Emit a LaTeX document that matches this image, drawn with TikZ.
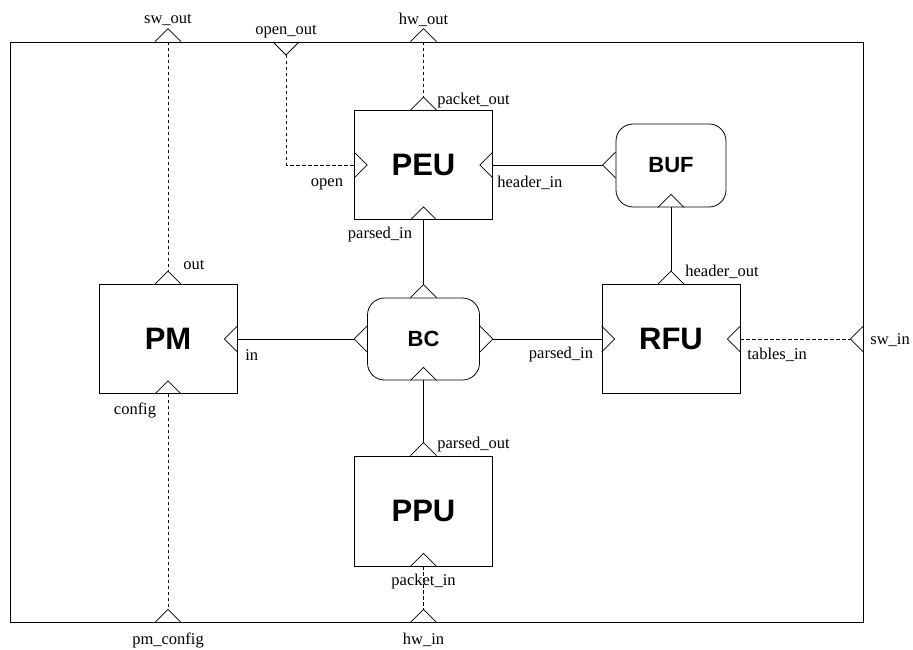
\documentclass[tikz,border=0pt]{standalone}
\usepackage{fontspec}
\setmainfont{Liberation Serif}
\newfontfamily\blocksans{Liberation Sans}
\begin{document}
\begin{tikzpicture}[x=1pt,y=-1pt,line width=0.8pt,
  lbl/.style={font=\fontsize{16.5}{19}\selectfont,inner sep=0pt},
  blk/.style={draw,minimum width=138pt,minimum height=109pt,font=\blocksans\bfseries\fontsize{31}{34}\selectfont},
  rblk/.style={draw,rounded corners=17pt,font=\blocksans\bfseries\fontsize{22}{25}\selectfont},
  dsh/.style={dash pattern=on 3.5pt off 2.5pt},
  pup/.pic={\draw (-13,0) -- (0,-13) -- (13,0);},
  pdown/.pic={\draw (-13,0) -- (0,13) -- (13,0);},
  pleft/.pic={\draw (0,-13) -- (-13,0) -- (0,13);},
  pright/.pic={\draw (0,-13) -- (13,0) -- (0,13);}]
\useasboundingbox (0,0) rectangle (913,650);
\node[draw,minimum width=853pt,minimum height=580pt,inner sep=0pt] (frame) at (436.5,332) {};
% blocks
\node[blk] (PEU) at (423.5,165) {PEU};
\node[blk] (PM) at (168,339) {PM};
\node[blk] (RFU) at (671,339) {RFU};
\node[blk,minimum height=110pt] (PPU) at (423.5,511) {PPU};
\node[rblk,minimum width=110pt,minimum height=83pt] (BUF) at (671,165.5) {BUF};
\node[rblk,minimum width=112pt,minimum height=82pt] (BC) at (423.5,339) {BC};
% frame port coordinates
\coordinate (swout) at (frame.north -| PM.center);
\coordinate (openoutB) at (286,42);
\coordinate (hwout) at (frame.north -| PEU.center);
\coordinate (swin) at (frame.east |- RFU.center);
\coordinate (pmcfg) at (frame.south -| PM.center);
\coordinate (hwin) at (frame.south -| PPU.center);
% apex coordinates
\coordinate (openoutA) at ([yshift=-13pt]openoutB);
\coordinate (swinA) at ([xshift=-13pt]swin);
\coordinate (pmcfgA) at ([yshift=13pt]pmcfg);
\coordinate (hwinA) at ([yshift=13pt]hwin);
\coordinate (peuN) at ([yshift=13pt]PEU.north);
\coordinate (pmN) at ([yshift=13pt]PM.north);
\coordinate (rfuN) at ([yshift=13pt]RFU.north);
\coordinate (ppuN) at ([yshift=13pt]PPU.north);
\coordinate (bcN) at ([yshift=13pt]BC.north);
\coordinate (bcW) at ([xshift=-13pt]BC.west);
\coordinate (bcE) at ([xshift=13pt]BC.east);
\coordinate (bufW) at ([xshift=-13pt]BUF.west |- PEU.east);
% ports
\pic at (swout) {pup};
\pic at (openoutB) {pdown};
\pic at (hwout) {pup};
\pic at (swin) {pleft};
\pic at (pmcfg) {pup};
\pic at (hwin) {pup};
\pic at (PEU.north) {pup};
\pic at (PEU.west) {pright};
\pic at (PEU.east) {pleft};
\pic at (PEU.south) {pup};
\pic at (BUF.west |- PEU.east) {pleft};
\pic at (BUF.south) {pup};
\pic at (PM.north) {pup};
\pic at (PM.east) {pleft};
\pic at (PM.south) {pup};
\pic at (BC.north) {pup};
\pic at (BC.west) {pleft};
\pic at (BC.east) {pright};
\pic at (BC.south) {pup};
\pic at (RFU.north) {pup};
\pic at (RFU.west) {pright};
\pic at (RFU.east) {pleft};
\pic at (PPU.north) {pup};
\pic at (PPU.south) {pup};
% solid connectors
\draw (PEU.south) -- (bcN);
\draw (bcW) -- (PM.east);
\draw (bcE) -- (RFU.west);
\draw (BC.south) -- (ppuN);
\draw (PEU.east) -- (bufW);
\draw (BUF.south) -- (rfuN);
% dashed connectors
\draw[dsh] (swout) -- (pmN);
\draw[dsh] (openoutA) |- (PEU.west);
\draw[dsh] (hwout) -- (peuN);
\draw[dsh] (RFU.east) -- (swinA);
\draw[dsh] (PM.south) -- (pmcfgA);
\draw[dsh] (PPU.south) -- (hwinA);
% labels
\node[lbl] (l1) at (168,20) {sw\_out};
\node[lbl] (l2) at (286,32) {open\_out};
\node[lbl] (l3) at (423.5,20) {hw\_out};
\node[lbl,anchor=west] (l4) at (437,101) {packet\_out};
\node[lbl] (l5) at (327,184) {open};
\node[lbl,anchor=west] (l6) at (497,183) {header\_in};
\node[lbl] (l7) at (380,235) {parsed\_in};
\node[lbl,anchor=west] (l8) at (183,265) {out};
\node[lbl,anchor=west] (l9) at (245,355) {in};
\node[lbl] (l10) at (135,410) {config};
\node[lbl,anchor=west] (l11) at (685,272) {header\_out};
\node[lbl] (l12) at (561,355) {parsed\_in};
\node[lbl,anchor=west] (l13) at (747,355) {tables\_in};
\node[lbl,anchor=west] (l14) at (870,340) {sw\_in};
\node[lbl,anchor=west] (l15) at (437,445) {parsed\_out};
\node[lbl] (l16) at (423.5,582) {packet\_in};
\node[lbl] (l17) at (168,640) {pm\_config};
\node[lbl] (l18) at (423.5,640) {hw\_in};
\end{tikzpicture}
\end{document}
